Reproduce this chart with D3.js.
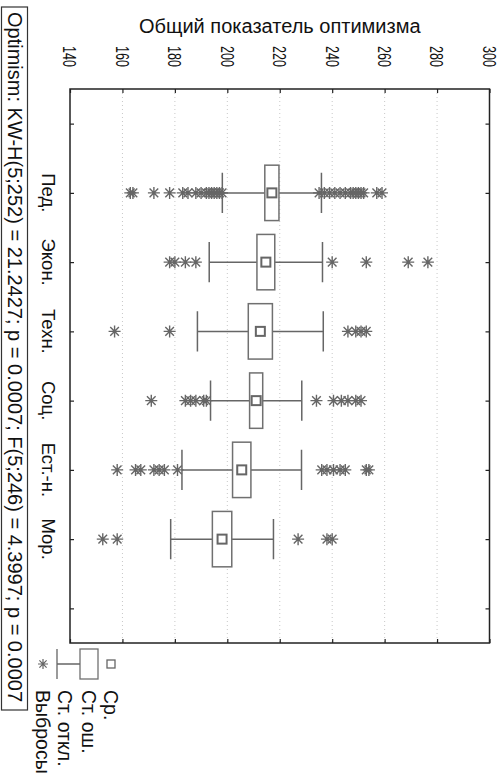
<!DOCTYPE html>
<html>
<head>
<meta charset="utf-8">
<script src="https://cdn.jsdelivr.net/npm/d3@7"></script>
<style>
  body { margin: 0; background: #fff; }
  text { font-family: "Liberation Sans", Arial, sans-serif; fill: #111; }
</style>
</head>
<body>
<svg id="chart" width="501" height="776"></svg>
<script>
// Groups (top to bottom), summary stats and outliers
const groups = ['Пед.', 'Экон.', 'Техн.', 'Соц.', 'Ест.-н.', 'Мор.'];
const means = [217.0, 214.7, 212.6, 211.0, 205.5, 198.0];
const stdErrs = [2.7, 3.4, 4.6, 2.5, 3.5, 3.7];
const stdDevs = [18.9, 21.6, 24.0, 17.4, 22.8, 19.6];
const outliers = [
  [163, 164, 172, 178, 183, 185, 188, 190, 192, 193, 194, 195, 196, 197, 198,
   235, 237, 239, 241, 243, 245, 247, 248, 249, 250, 251, 252, 257, 259],
  [178, 180, 184, 188, 240, 253, 269, 276.5],
  [157, 178, 246, 249, 251, 253],
  [171, 184, 186, 188, 191, 192, 234, 240.5, 243.5, 246, 249, 251],
  [158, 165, 167, 172, 174, 176, 181, 236, 238, 240.5, 243, 245, 253, 254],
  [152.5, 158, 227, 238, 240]
];
const valueTicks = [140, 160, 180, 200, 220, 240, 260, 280, 300];
const legendLabels = ['Ср.', 'Ст. ош.', 'Ст. откл.', 'Выбросы'];
const axisTitle = 'Общий показатель оптимизма';
const statsNote = 'Optimism: KW-H(5;252) = 21.2427; p = 0.0007; F(5;246) = 4.3997; p = 0.0007';

const svg = d3.select('#chart');
const plot = { left: 70, right: 489.5, top: 89, bottom: 643 };

const x = d3.scaleLinear().domain([140, 300]).range([plot.left, plot.right]);
// one empty slot above and below the groups
const y = d3.scaleLinear().domain([-1.5, groups.length + 0.5]).range([plot.top, plot.bottom]);
const band = y(1) - y(0);

const boxColor = '#707070';
const markColor = '#666';

// dotted grid
svg.append('g')
  .selectAll('line')
  .data(valueTicks.slice(1, -1))
  .join('line')
  .attr('x1', d => x(d)).attr('x2', d => x(d))
  .attr('y1', plot.top).attr('y2', plot.bottom)
  .attr('stroke', '#c8c8c8')
  .attr('stroke-dasharray', '1,3');

// inward ticks on all four sides
const tickIdx = d3.range(-1, groups.length + 1);
const axes = [
  [d3.axisTop(x).tickValues(valueTicks), `translate(0,${plot.top})`],
  [d3.axisBottom(x).tickValues(valueTicks), `translate(0,${plot.bottom})`],
  [d3.axisLeft(y).tickValues(tickIdx), `translate(${plot.left},0)`],
  [d3.axisRight(y).tickValues(tickIdx), `translate(${plot.right},0)`]
];
axes.forEach(([ax, tr]) => {
  const g = svg.append('g').attr('transform', tr)
    .call(ax.tickSize(-4).tickFormat(''));
  g.select('.domain').remove();
  g.selectAll('line').attr('stroke', '#222').attr('stroke-width', 1.2);
});

svg.append('rect')
  .attr('x', plot.left).attr('y', plot.top)
  .attr('width', plot.right - plot.left).attr('height', plot.bottom - plot.top)
  .attr('fill', 'none').attr('stroke', '#222').attr('stroke-width', 1.5);

// value tick labels, turned like the rest of the page
svg.append('g')
  .selectAll('text')
  .data(valueTicks)
  .join('text')
  .attr('transform', d => `translate(${x(d)},46) rotate(90) scale(0.66,1)`)
  .attr('dy', '0.35em')
  .style('font-size', '19px')
  .text(d => d);

svg.append('text')
  .attr('x', (plot.left + plot.right) / 2)
  .attr('y', 33)
  .attr('text-anchor', 'middle')
  .style('font-size', '20px')
  .text(axisTitle);

// group labels
svg.append('g')
  .selectAll('text')
  .data(groups)
  .join('text')
  .attr('transform', (d, i) => `translate(48,${y(i)}) rotate(90)`)
  .attr('text-anchor', 'middle')
  .attr('dy', '0.35em')
  .style('font-size', '18.5px')
  .text(d => d);

// box-whisker marks
const rows = svg.append('g')
  .selectAll('g')
  .data(groups.map((g, i) => ({ i, m: means[i], se: stdErrs[i], sd: stdDevs[i], out: outliers[i] })))
  .join('g');

const boxH = band * 0.8;
const capH = band * 0.58;

rows.append('path')
  .attr('d', d => {
    const cy = y(d.i);
    return `M${x(d.m - d.sd)},${cy}H${x(d.m - d.se)}M${x(d.m + d.se)},${cy}H${x(d.m + d.sd)}` +
      `M${x(d.m - d.sd)},${cy - capH / 2}V${cy + capH / 2}` +
      `M${x(d.m + d.sd)},${cy - capH / 2}V${cy + capH / 2}`;
  })
  .attr('fill', 'none').attr('stroke', markColor).attr('stroke-width', 1.5);

rows.append('rect')
  .attr('x', d => x(d.m - d.se))
  .attr('y', d => y(d.i) - boxH / 2)
  .attr('width', d => x(d.m + d.se) - x(d.m - d.se))
  .attr('height', boxH)
  .attr('fill', 'white').attr('stroke', boxColor).attr('stroke-width', 1.5);

rows.append('rect')
  .attr('x', d => x(d.m) - 4.5)
  .attr('y', d => y(d.i) - 4.5)
  .attr('width', 9).attr('height', 9)
  .attr('fill', 'white').attr('stroke', markColor).attr('stroke-width', 2);

function star(cx, cy, r) {
  const k = r * 0.72;
  return `M${cx - r},${cy}H${cx + r}M${cx},${cy - r}V${cy + r}` +
    `M${cx - k},${cy - k}L${cx + k},${cy + k}M${cx - k},${cy + k}L${cx + k},${cy - k}`;
}

rows.each(function (d) {
  d3.select(this).append('g')
    .selectAll('path')
    .data(d.out)
    .join('path')
    .attr('d', v => star(x(v), y(d.i), 6))
    .attr('stroke', markColor).attr('stroke-width', 1.4);
});

// statistics note in a frame on the left
svg.append('rect')
  .attr('x', 1.5).attr('y', 7)
  .attr('width', 26).attr('height', 703)
  .attr('fill', 'none').attr('stroke', '#333').attr('stroke-width', 1.2);

svg.append('text')
  .attr('transform', 'translate(15,12) rotate(90)')
  .attr('dy', '0.35em')
  .style('font-size', '20px')
  .text(statsNote);

// legend
const legend = svg.append('g');
const legX = [111, 89, 65, 43];
const legY = 664;
legend.append('rect')
  .attr('x', legX[0] - 4).attr('y', legY - 4)
  .attr('width', 8).attr('height', 8)
  .attr('fill', 'white').attr('stroke', markColor).attr('stroke-width', 1.3);
legend.append('rect')
  .attr('x', 80).attr('y', legY - 15)
  .attr('width', 18).attr('height', 30)
  .attr('fill', 'white').attr('stroke', boxColor).attr('stroke-width', 1.3);
legend.append('path')
  .attr('d', `M57,${legY - 15}V${legY + 15}M57,${legY}H80`)
  .attr('fill', 'none').attr('stroke', markColor).attr('stroke-width', 1.3);
legend.append('path')
  .attr('d', star(legX[3], legY, 5))
  .attr('stroke', markColor).attr('stroke-width', 1.2);

legend.selectAll('text')
  .data(legendLabels)
  .join('text')
  .attr('transform', (d, i) => `translate(${legX[i]},690) rotate(90)`)
  .attr('dy', '0.35em')
  .style('font-size', '19.5px')
  .text(d => d);
</script>
</body>
</html>
